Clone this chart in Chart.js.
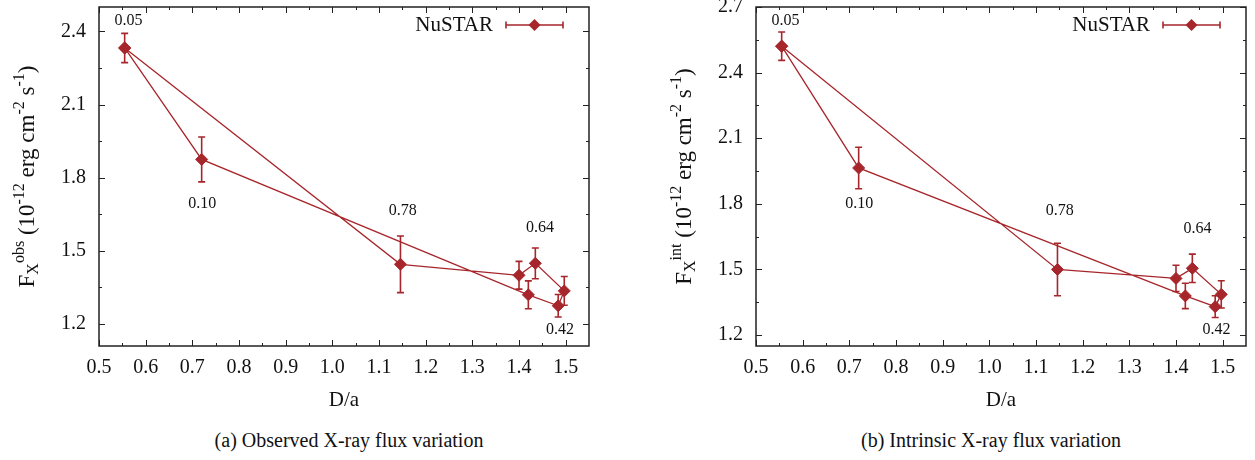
<!DOCTYPE html>
<html>
<head>
<meta charset="utf-8">
<script src="https://cdn.jsdelivr.net/npm/chart.js"></script>
<style>
  body{
    margin: 0;
    width: 1255px;
    height: 460px;
    overflow: hidden;
    background: #fff;
    font-family: "Liberation Serif", serif;
  }
  .panel{
    position: absolute;
    top: 0;
  }
  .caption{
    position: absolute;
    top: 429px;
    width: 400px;
    text-align: center;
    font-size: 20px;
    color: #111;
  }
</style>
</head>
<body>
<div class="panel" style="left:0px"><canvas id="chartObs" width="620" height="420"></canvas></div>
<div class="panel" style="left:657px"><canvas id="chartInt" width="598" height="420"></canvas></div>
<div class="caption" style="left:149px">(a) Observed X-ray flux variation</div>
<div class="caption" style="left:791px">(b) Intrinsic X-ray flux variation</div>

<script>
// points listed in the order they are joined (the loop closes on the first one)
const dOverA  = [0.555, 0.720, 1.420, 1.484, 1.497, 1.435, 1.400, 1.146];
const fluxObs = [2.332, 1.875, 1.320, 1.275, 1.336, 1.449, 1.400, 1.445];
const errObs  = [0.060, 0.092, 0.057, 0.046, 0.059, 0.063, 0.057, 0.116];
const fluxInt = [2.521, 1.964, 1.379, 1.330, 1.386, 1.505, 1.459, 1.500];
const errInt  = [0.065, 0.095, 0.058, 0.050, 0.062, 0.065, 0.060, 0.120];

const xTicks    = [0.5, 0.6, 0.7, 0.8, 0.9, 1.0, 1.1, 1.2, 1.3, 1.4, 1.5];
const yTicksObs = [1.2, 1.5, 1.8, 2.1, 2.4];
const yTicksInt = [1.2, 1.5, 1.8, 2.1, 2.4, 2.7];

// orbital phase labels, placed in data coordinates
const phaseLabels = ['0.05', '0.10', '0.78', '0.64', '0.42'];
const phaseObsX = [0.563, 0.721, 1.151, 1.445, 1.488];
const phaseObsY = [2.442, 1.692, 1.665, 1.593, 1.177];
const phaseIntX = [0.563, 0.721, 1.151, 1.446, 1.487];
const phaseIntY = [2.636, 1.799, 1.768, 1.688, 1.223];

const legendLabel = 'NuSTAR';

const RED = '#a7262b';
const AXIS = '#222';
const SERIF = '"Liberation Serif", serif';

Chart.defaults.font.family = SERIF;

function minorTicks(major, min, max) {
  const step = major[1] - major[0];
  const out = [];
  for (let v = major[0] - step / 2; v < max; v += step) {
    if (v > min + 1e-6 && v < max - 1e-6) out.push(v);
  }
  return out;
}

function drawDiamond(ctx, x, y, r) {
  ctx.beginPath();
  ctx.moveTo(x, y - r);
  ctx.lineTo(x + r, y);
  ctx.lineTo(x, y + r);
  ctx.lineTo(x - r, y);
  ctx.closePath();
  ctx.fill();
}

function noPad(s) {
  s.paddingTop = 0;
  s.paddingBottom = 0;
  s.paddingLeft = 0;
  s.paddingRight = 0;
}

function makePlugin(flux, err, yTicks, supText, labX, labY) {
  return {
    id: 'gnuplotLook',
    beforeDatasetsDraw(chart) {
      const ctx = chart.ctx;
      const xs = chart.scales.x, ys = chart.scales.y;
      ctx.save();
      ctx.strokeStyle = RED;
      ctx.lineWidth = 1.6;
      for (let i = 0; i < dOverA.length; i++) {
        const px = xs.getPixelForValue(dOverA[i]);
        const y1 = ys.getPixelForValue(flux[i] - err[i]);
        const y2 = ys.getPixelForValue(flux[i] + err[i]);
        ctx.beginPath();
        ctx.moveTo(px, y1); ctx.lineTo(px, y2);
        ctx.moveTo(px - 3.5, y1); ctx.lineTo(px + 3.5, y1);
        ctx.moveTo(px - 3.5, y2); ctx.lineTo(px + 3.5, y2);
        ctx.stroke();
      }
      ctx.restore();
    },
    afterDraw(chart) {
      const ctx = chart.ctx;
      const a = chart.chartArea;
      const xs = chart.scales.x, ys = chart.scales.y;
      ctx.save();

      // inward ticks on all four sides
      ctx.strokeStyle = AXIS;
      ctx.lineWidth = 1;
      ctx.beginPath();
      const tickX = (v, len) => {
        const p = Math.round(xs.getPixelForValue(v)) + 0.5;
        ctx.moveTo(p, a.bottom); ctx.lineTo(p, a.bottom - len);
        ctx.moveTo(p, a.top); ctx.lineTo(p, a.top + len);
      };
      const tickY = (v, len) => {
        const p = Math.round(ys.getPixelForValue(v)) + 0.5;
        ctx.moveTo(a.left, p); ctx.lineTo(a.left + len, p);
        ctx.moveTo(a.right, p); ctx.lineTo(a.right - len, p);
      };
      xTicks.forEach(v => tickX(v, 6));
      minorTicks(xTicks, xs.min, xs.max).forEach(v => tickX(v, 3));
      yTicks.forEach(v => tickY(v, 6));
      minorTicks(yTicks, ys.min, ys.max).forEach(v => tickY(v, 3));
      ctx.stroke();

      // frame
      ctx.lineWidth = 1.5;
      ctx.strokeRect(a.left, a.top, a.right - a.left, a.bottom - a.top);

      // phase labels
      ctx.fillStyle = '#111';
      ctx.font = '16px ' + SERIF;
      ctx.textAlign = 'center';
      ctx.textBaseline = 'middle';
      phaseLabels.forEach((t, i) => {
        ctx.fillText(t, xs.getPixelForValue(labX[i]), ys.getPixelForValue(labY[i]));
      });

      // legend
      const ly = a.top + 18;
      ctx.font = '21px ' + SERIF;
      ctx.textAlign = 'right';
      ctx.fillText(legendLabel, a.right - 96, ly);
      ctx.strokeStyle = RED;
      ctx.lineWidth = 1.3;
      ctx.beginPath();
      ctx.moveTo(a.right - 83, ly); ctx.lineTo(a.right - 26, ly);
      ctx.stroke();
      ctx.lineWidth = 1.6;
      ctx.beginPath();
      ctx.moveTo(a.right - 83, ly - 3.5); ctx.lineTo(a.right - 83, ly + 3.5);
      ctx.moveTo(a.right - 26, ly - 3.5); ctx.lineTo(a.right - 26, ly + 3.5);
      ctx.stroke();
      ctx.fillStyle = RED;
      drawDiamond(ctx, a.right - 54.5, ly, 6);

      // rotated y title with sub/superscripts
      const parts = [
        {t: 'F', s: 0}, {t: 'X', s: -1}, {t: supText, s: 1},
        {t: ' (10', s: 0}, {t: '-12', s: 1}, {t: ' erg cm', s: 0},
        {t: '-2', s: 1}, {t: ' s', s: 0}, {t: '-1', s: 1}, {t: ')', s: 0}
      ];
      const fontFor = p => (p.s === 0 ? '23px ' : '16px ') + SERIF;
      let total = 0;
      parts.forEach(p => { ctx.font = fontFor(p); p.w = ctx.measureText(p.t).width; total += p.w; });
      ctx.translate(a.left - 65, (a.top + a.bottom) / 2);
      ctx.rotate(-Math.PI / 2);
      ctx.fillStyle = '#111';
      ctx.textAlign = 'left';
      ctx.textBaseline = 'alphabetic';
      let cx = -total / 2;
      parts.forEach(p => {
        ctx.font = fontFor(p);
        const dy = p.s > 0 ? -10 : (p.s < 0 ? 4 : 0);
        ctx.fillText(p.t, cx, dy);
        cx += p.w;
      });
      ctx.restore();
    }
  };
}

function makeChart(canvasId, flux, err, yTicks, yMin, yMax, padRight, supText, labX, labY) {
  const pts = dOverA.map((x, i) => ({x: x, y: flux[i]}));
  pts.push(pts[0]);

  return new Chart(document.getElementById(canvasId), {
    type: 'line',
    data: {
      datasets: [{
        label: legendLabel,
        data: pts,
        borderColor: RED,
        backgroundColor: RED,
        borderWidth: 1.3,
        pointStyle: 'rectRot',
        pointRadius: 6,
        pointBorderWidth: 1,
        pointBackgroundColor: RED,
        pointBorderColor: RED,
        tension: 0,
        fill: false
      }]
    },
    options: {
      responsive: false,
      animation: false,
      layout: {padding: {left: 0, right: padRight, top: 6, bottom: 0}},
      plugins: {
        legend: {display: false},
        tooltip: {enabled: false}
      },
      scales: {
        x: {
          type: 'linear',
          min: 0.5,
          max: 1.55,
          afterBuildTicks: s => { s.ticks = xTicks.map(v => ({value: v})); },
          afterFit: s => { s.height = 74; noPad(s); },
          grid: {display: false, drawTicks: false},
          border: {display: false},
          ticks: {
            color: '#111',
            font: {family: SERIF, size: 20},
            padding: 10,
            maxRotation: 0,
            autoSkip: false,
            callback: v => v.toFixed(1)
          },
          title: {
            display: true,
            text: 'D/a',
            color: '#111',
            font: {family: SERIF, size: 21},
            padding: {top: 0, bottom: 7}
          }
        },
        y: {
          type: 'linear',
          min: yMin,
          max: yMax,
          afterBuildTicks: s => { s.ticks = yTicks.map(v => ({value: v})); },
          afterFit: s => { s.width = 99; noPad(s); },
          grid: {display: false, drawTicks: false},
          border: {display: false},
          ticks: {
            color: '#111',
            font: {family: SERIF, size: 20},
            padding: 13,
            autoSkip: false,
            callback: v => v.toFixed(1)
          }
        }
      }
    },
    plugins: [makePlugin(flux, err, yTicks, supText, labX, labY)]
  });
}

makeChart('chartObs', fluxObs, errObs, yTicksObs, 1.11, 2.5, 31, 'obs', phaseObsX, phaseObsY);
makeChart('chartInt', fluxInt, errInt, yTicksInt, 1.15, 2.7, 9, 'int', phaseIntX, phaseIntY);
</script>
</body>
</html>
